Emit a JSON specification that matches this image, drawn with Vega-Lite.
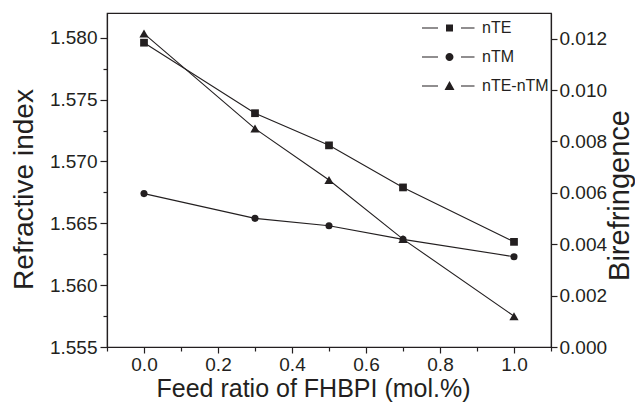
{
  "$schema": "https://vega.github.io/schema/vega-lite/v6.json",
  "autosize": {"type": "none"},
  "padding": {"left": 107, "top": 13, "right": 84, "bottom": 58},
  "width": 444,
  "height": 334,
  "background": "white",
  "config": {
    "font": "Liberation Sans",
    "view": {"stroke": "#231f20", "strokeWidth": 1.2},
    "axis": {
      "domainColor": "#231f20",
      "tickColor": "#231f20",
      "labelColor": "#231f20",
      "titleColor": "#231f20",
      "labelFont": "Liberation Sans",
      "titleFont": "Liberation Sans",
      "labelFontSize": 19,
      "titleFontSize": 26,
      "titleFontWeight": "normal",
      "grid": false,
      "domainWidth": 1.2,
      "tickWidth": 1.2,
      "labelOverlap": false,
      "labelFlush": false
    }
  },
  "data": {
    "values": [
      {"x": 0.0, "series": "nTE", "value": 1.5796},
      {"x": 0.3, "series": "nTE", "value": 1.5739},
      {"x": 0.5, "series": "nTE", "value": 1.5713},
      {"x": 0.7, "series": "nTE", "value": 1.5679},
      {"x": 1.0, "series": "nTE", "value": 1.5635},
      {"x": 0.0, "series": "nTM", "value": 1.5674},
      {"x": 0.3, "series": "nTM", "value": 1.5654},
      {"x": 0.5, "series": "nTM", "value": 1.5648},
      {"x": 0.7, "series": "nTM", "value": 1.5637},
      {"x": 1.0, "series": "nTM", "value": 1.5623},
      {"x": 0.0, "series": "nTE-nTM", "value": 0.0122},
      {"x": 0.3, "series": "nTE-nTM", "value": 0.0085},
      {"x": 0.5, "series": "nTE-nTM", "value": 0.0065},
      {"x": 0.7, "series": "nTE-nTM", "value": 0.0042},
      {"x": 1.0, "series": "nTE-nTM", "value": 0.0012}
    ]
  },
  "encoding": {
    "x": {
      "field": "x",
      "type": "quantitative",
      "scale": {"domain": [-0.1, 1.1], "nice": false, "zero": false},
      "axis": {
        "title": "Feed ratio of FHBPI (mol.%)",
        "values": [-0.1, 0, 0.1, 0.2, 0.3, 0.4, 0.5, 0.6, 0.7, 0.8, 0.9, 1.0, 1.1],
        "labelExpr": "round(datum.value*10) % 2 == 0 ? format(datum.value, '.1f') : ''",
        "tickSize": {"condition": {"test": "round(datum.value*10) % 2 == 0", "value": 6}, "value": 4},
        "labelPadding": 2,
        "titleFontSize": 25,
        "titleBaseline": "alphabetic",
        "titleY": 49,
        "titleX": 206
      }
    }
  },
  "layer": [
    {
      "transform": [{"filter": "datum.series !== 'nTE-nTM'"}],
      "encoding": {
        "y": {
          "field": "value",
          "type": "quantitative",
          "scale": {"domain": [1.555, 1.582], "nice": false, "zero": false},
          "axis": {
            "orient": "left",
            "title": "Refractive index",
            "values": [1.555, 1.5575, 1.56, 1.5625, 1.565, 1.5675, 1.57, 1.5725, 1.575, 1.5775, 1.58],
            "labelExpr": "round(datum.value*400) % 2 == 0 ? format(datum.value, '.3f') : ''",
            "tickSize": {"condition": {"test": "round(datum.value*400) % 2 == 0", "value": 7}, "value": 4},
            "labelPadding": 3,
            "titleFontSize": 28,
            "titleAngle": -90,
            "titleBaseline": "alphabetic",
            "titleX": -75,
            "titleY": 176
          }
        }
      },
      "layer": [
        {
          "mark": {"type": "line", "color": "#231f20", "strokeWidth": 1.1},
          "encoding": {"detail": {"field": "series"}}
        },
        {
          "transform": [{"filter": "datum.series === 'nTE'"}],
          "mark": {"type": "point", "filled": true, "color": "#231f20", "opacity": 1, "size": 60, "shape": "square"},
          "encoding": {}
        },
        {
          "transform": [{"filter": "datum.series === 'nTM'"}],
          "mark": {"type": "point", "filled": true, "color": "#231f20", "opacity": 1, "size": 50, "shape": "circle"},
          "encoding": {}
        },
        {
          "mark": {"type": "point", "filled": true, "color": "#231f20", "opacity": 0, "size": 100},
          "encoding": {
            "shape": {
              "field": "series",
              "type": "nominal",
              "scale": {
                "domain": ["nTE", "nTM", "nTE-nTM"],
                "range": [
                  "M-5.5,-0.11H-2.3V0.11H-5.5Z M2.3,-0.11H5V0.11H2.3Z M-0.7,-0.7H0.7V0.7H-0.7Z",
                  "M-5.5,-0.11H-2.3V0.11H-5.5Z M2.3,-0.11H5V0.11H2.3Z M-0.8,0A0.8,0.8,0,1,0,0.8,0A0.8,0.8,0,1,0,-0.8,0Z",
                  "M-5.5,-0.11H-2.3V0.11H-5.5Z M2.3,-0.11H5V0.11H2.3Z M-1,0.8L0,-1L1,0.8Z"
                ]
              },
              "legend": {
                "title": null,
                "orient": "none",
                "legendX": 334.5,
                "legendY": 7,
                "padding": 0,
                "symbolSize": 100,
                "symbolOpacity": 1,
                "symbolFillColor": "#231f20",
                "symbolStrokeColor": "#231f20",
                "symbolStrokeWidth": 0,
                "labelFont": "Liberation Sans",
                "labelFontSize": 16,
                "labelColor": "#231f20",
                "labelOffset": 24.5,
                "rowPadding": 13
              }
            }
          }
        }
      ]
    },
    {
      "transform": [{"filter": "datum.series === 'nTE-nTM'"}],
      "encoding": {
        "y": {
          "field": "value",
          "type": "quantitative",
          "scale": {"domain": [0, 0.013], "nice": false, "zero": false},
          "axis": {
            "orient": "right",
            "title": "Birefringence",
            "values": [0, 0.002, 0.004, 0.006, 0.008, 0.01, 0.012],
            "format": ".3f",
            "tickSize": 6,
            "labelPadding": 2,
            "titleFontSize": 29,
            "titleAngle": -90,
            "titleBaseline": "alphabetic",
            "titleX": 77,
            "titleY": 182
          }
        }
      },
      "layer": [
        {
          "mark": {"type": "line", "color": "#231f20", "strokeWidth": 1.1},
          "encoding": {}
        },
        {
          "mark": {"type": "point", "filled": true, "color": "#231f20", "opacity": 1, "size": 85, "shape": "triangle-up"},
          "encoding": {}
        }
      ]
    }
  ],
  "resolve": {"scale": {"y": "independent"}}
}
